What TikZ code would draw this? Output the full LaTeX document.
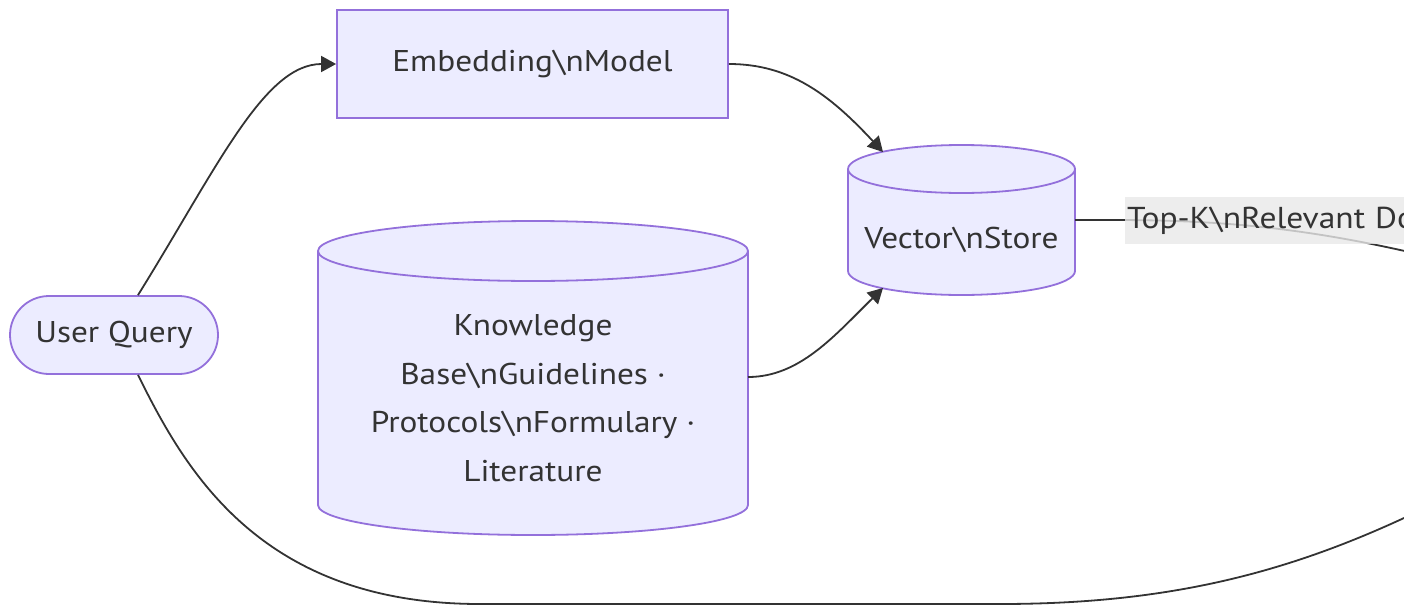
\documentclass[tikz,border=0pt]{standalone}
\usepackage{fontspec}
\setmainfont[FakeStretch=1.11]{PT Sans}
\usetikzlibrary{arrows.meta}
\definecolor{nodefill}{HTML}{ECECFF}
\definecolor{nodeline}{HTML}{9370DB}
\definecolor{ink}{HTML}{333333}
\definecolor{labelbg}{HTML}{E8E8E8}
\begin{document}
\begin{tikzpicture}[x=1pt,y=-1pt,
  txt/.style={text=ink, font=\fontsize{30}{48.5}\selectfont, inner sep=0pt, align=center},
  shapeline/.style={draw=nodeline, line width=1.8pt, fill=nodefill},
  term/.style={shapeline, txt, rounded corners=39pt, minimum width=208pt, minimum height=78pt},
  proc/.style={shapeline, txt, minimum width=391pt, minimum height=108pt},
  flow/.style={draw=ink, line width=1.8pt},
  tip/.style={-{Triangle[length=15pt,width=16pt]}},
  edgelabel/.style={txt, font=\fontsize{30.2}{40}\selectfont, fill=labelbg, fill opacity=0.8, text opacity=1,
    text width=330pt, align=left, inner xsep=2pt, minimum height=47pt}
]
\useasboundingbox (0,0) rectangle (1404,605);
\clip (0,0) rectangle (1404,605);

% knowledge base cylinder
\path[shapeline] (318,251) -- (318,505) arc[start angle=180, end angle=0, x radius=215, y radius=30]
  -- (748,251) arc[start angle=0, end angle=-180, x radius=215, y radius=30] -- cycle;
\draw[draw=nodeline, line width=1.8pt] (318,251) arc[start angle=180, end angle=0, x radius=215, y radius=30];

% vector store cylinder
\path[shapeline] (848,169) -- (848,271) arc[start angle=180, end angle=0, x radius=113.5, y radius=24]
  -- (1075,271) -- (1075,169) arc[start angle=0, end angle=-180, x radius=113.5, y radius=24] -- cycle;
\draw[draw=nodeline, line width=1.8pt] (848,169) arc[start angle=180, end angle=0, x radius=113.5, y radius=24];

% nodes
\node[term] (uq) at (114,335) {User Query};
\node[proc] (emb) at (532.5,64) {Embedding\textbackslash nModel};
\node[txt] (kb) at (533,398) {Knowledge\\Base\textbackslash nGuidelines ·\\Protocols\textbackslash nFormulary ·\\Literature};
\node[txt] (vs) at (961.5,240) {Vector\textbackslash nStore};

% attachment points on the cylinder outlines and beyond the right edge
\coordinate (vs-top) at (883,152);
\coordinate (vs-bot) at (883,288);
\coordinate (vs-e) at (1075,220);
\coordinate (kb-e) at (748,377);
\coordinate (ctx-in) at (1500,275);
\coordinate (q-in) at (1480,480);

% connectors
\draw[flow, tip] ([xshift=24pt]uq.north) .. controls (217,168) and (264,64) .. (emb.west);
\draw[flow, tip] (emb.east) .. controls (790,64) and (830,95) .. (vs-top);
\draw[flow, tip] (kb-e) .. controls (800,377) and (835,335) .. (vs-bot);
\draw[flow] (vs-e) -- (1110,220) .. controls (1230,220) and (1330,228) .. (ctx-in);
\draw[flow] ([xshift=24pt]uq.south) .. controls (185,470) and (260,604) .. (480,604)
  -- (1000,604) .. controls (1200,604) and (1330,560) .. (q-in);

% edge label
\node[edgelabel, anchor=west] (topk) at (1125,220.5) {Top-K\textbackslash nRelevant Do};
\end{tikzpicture}
\end{document}
